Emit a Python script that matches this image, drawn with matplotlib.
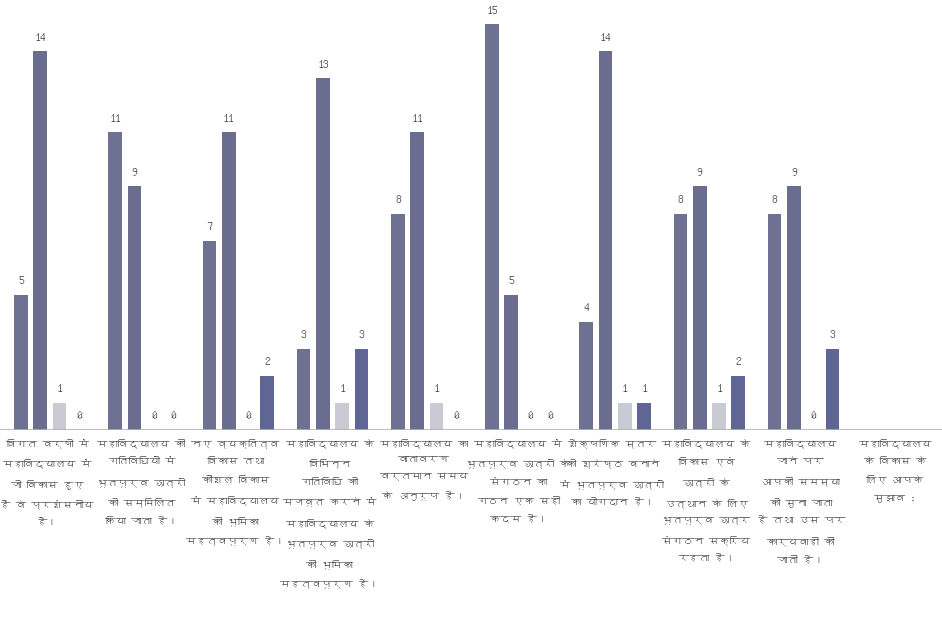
import numpy as np
import matplotlib
matplotlib.use('Agg')
import matplotlib.pyplot as plt
from matplotlib import font_manager
from matplotlib.ft2font import FT2Font

# find an installed font that has Devanagari glyphs
deva_family = None
for fe in font_manager.fontManager.ttflist:
    try:
        if 0x0915 in FT2Font(fe.fname).get_charmap():
            deva_family = fe.name
            break
    except Exception:
        pass
families = ([deva_family] if deva_family else []) + ['DejaVu Sans']
plt.rcParams['font.family'] = families

categories = [
    'विगत वर्षों में\nमहाविद्यालय में\nजो विकास हुए\nहैं वे प्रशंसनीय\nहैं।',
    'महाविद्यालय की\nगतिविधियों में\nभूतपूर्व छात्रों\nको सम्मिलित\nकिया जाता है।',
    'नए व्यक्तित्व\nविकास तथा\nकौशल विकास\nमें महाविद्यालय\nकी भूमिका\nमहत्वपूर्ण है।',
    'महाविद्यालय के\nविभिन्न\nगतिविधि को\nमजबूत करने में\nमहाविद्यालय के\nभूतपूर्व छात्रों\nकी भूमिका\nमहत्वपूर्ण है।',
    'महाविद्यालय का\nवातावरण\nवर्तमान समय\nके अनुरूप है।',
    'महाविद्यालय में\nभूतपूर्व छात्रों के\nसंगठन का\nगठन एक सही\nकदम है।',
    'शैक्षणिक स्तर\nको श्रेष्ठ बनाने\nमें भूतपूर्व छात्रों\nका योगदान है।',
    'महाविद्यालय के\nविकास एवं\nछात्रों के\nउत्थान के लिए\nभूतपूर्व छात्र\nसंगठन सक्रिय\nरहता है।',
    'महाविद्यालय\nजाने पर\nआपकी समस्या\nको सुना जाता\nहै तथा उस पर\nकार्यवाही की\nजाती है।',
    'महाविद्यालय\nके विकास के\nलिए आपके\nसुझाव :',
]

# four response series (last category has no responses)
series1 = [5, 11, 7, 3, 8, 15, 4, 8, 8, np.nan]
series2 = [14, 9, 11, 13, 11, 5, 14, 9, 9, np.nan]
series3 = [1, 0, 0, 1, 1, 0, 1, 1, 0, np.nan]
series4 = [0, 0, 2, 3, 0, 0, 1, 2, 3, np.nan]

colors = ['#6e7192', '#6a6d90', '#c9cad3', '#5f6594']

fig = plt.figure(figsize=(9.42, 6.32), dpi=100)
ax = fig.add_axes([0.0, 0.32, 1.0, 0.68])

x = np.arange(len(categories))
width = 0.145
step = 0.205
offsets = [-1.5 * step, -0.5 * step, 0.5 * step, 1.5 * step]

for vals, off, col in zip([series1, series2, series3, series4], offsets, colors):
    vals = np.array(vals, dtype=float)
    ax.bar(x + off + 0.03, vals, width, color=col, zorder=2)
    for xi, v in zip(x + off + 0.03, vals):
        if np.isnan(v):
            continue
        ax.text(xi, v + 0.35, '%d' % v, ha='center', va='bottom',
                fontsize=8.5, color='#3c3c3c', clip_on=False)

ax.set_xlim(-0.5, len(categories) - 0.5)
ax.set_ylim(0, 15.9)
ax.axhline(0, color='#b0b0b0', lw=1.2, zorder=3)

for xi, lab in zip(x, categories):
    ax.text(xi, -0.3, lab, ha='center', va='top', fontsize=7.5,
            color='#4a4a4a', linespacing=2.2, clip_on=False)

for sp in ax.spines.values():
    sp.set_visible(False)
ax.set_xticks([])
ax.set_yticks([])

fig.savefig('out.png', dpi=100, facecolor='white')
